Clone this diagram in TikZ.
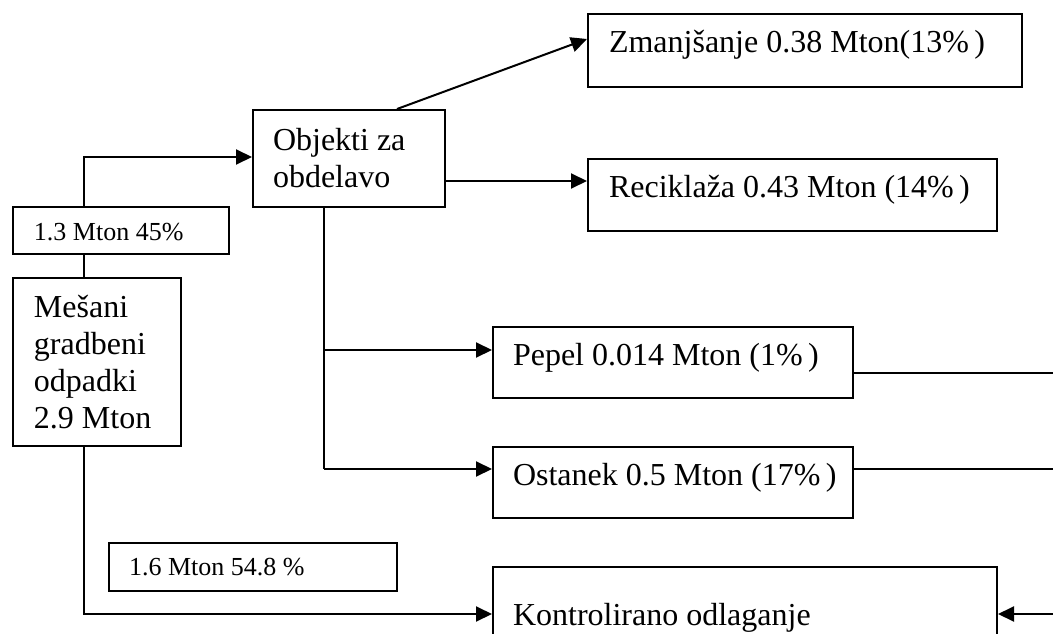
\documentclass[tikz,border=0pt]{standalone}
\usepackage{fontspec}
\setmainfont{Liberation Serif}
\usetikzlibrary{arrows.meta,calc}
\begin{document}
\begin{tikzpicture}[x=1pt,y=-1pt,
  line width=2pt,
  box/.style={draw,fill=white,rectangle,inner sep=0pt,anchor=north west},
  big/.style={font=\fontsize{32}{37}\selectfont,inner sep=0pt,anchor=base west,align=left},
  small/.style={font=\fontsize{26}{30}\selectfont,inner sep=0pt,anchor=base west},
  arr/.style={-{Triangle[length=16pt,width=15pt]}}]
\clip (0,0) rectangle (1053,634);
\fill[white] (0,0) rectangle (1053,634);

\coordinate (rightA) at (1053,373);
\coordinate (rightB) at (1053,469);
\coordinate (rightC) at (1053,614);

% boxes
\node[box,minimum width=168pt,minimum height=168pt] (mix) at (12,277) {};
\node[box,minimum width=192pt,minimum height=97pt] (obj) at (252,109) {};
\node[box,minimum width=434pt,minimum height=73pt] (zma) at (587,13) {};
\node[box,minimum width=409pt,minimum height=72pt] (rec) at (587,158) {};
\node[box,minimum width=360pt,minimum height=71pt] (pep) at (492,326) {};
\node[box,minimum width=360pt,minimum height=71pt] (ost) at (492,446) {};
\node[box,minimum width=504pt,minimum height=100pt] (kon) at (492,566) {};
\node[box,minimum width=288pt,minimum height=48pt] (lab16) at (108,542) {};

% paths from the mixed waste box
\coordinate (mixTop) at ([xshift=72pt]mix.north west);
\coordinate (mixBot) at ([xshift=72pt]mix.south west);
\draw[arr] (mixTop) |- (obj.west |- 0,157);
\draw[arr] (mixBot) |- (kon.west |- 0,614);
% label box sits on top of the rising line
\node[box,minimum width=216pt,minimum height=47pt] (lab13) at (12,206) {};

% outputs of the processing box
\draw[arr] ([xshift=145pt]obj.north west) -- ([yshift=-26pt]zma.north west);
\draw[arr] (obj.east |- 0,181) -- (rec.west |- 0,181);
\coordinate (objBot) at ([xshift=72pt]obj.south west);
\draw (objBot) -- (objBot |- 0,469);
\draw[arr] (objBot |- 0,350) -- (pep.west |- 0,350);
\draw[arr] (objBot |- 0,469) -- (ost.west |- 0,469);

% lines leaving to the right and the return into disposal
\draw (pep.east |- rightA) -- (rightA);
\draw (ost.east |- rightB) -- (rightB);
\draw[arr] (rightC) -- (kon.east |- rightC);

% texts (multi-line nodes are placed by the baseline of their last line)
\node[big] (mixT) at (33,428) {Mešani\\gradbeni\\odpadki\\2.9 Mton};
\node[big] (objT) at (272,187) {Objekti za\\obdelavo};
\node[big] (zmaT) at (608,53) {Zmanjšanje 0.38 Mton(13\%\,)};
\node[big] (recT) at (608,197) {Reciklaža 0.43 Mton (14\%\,)};
\node[big] (pepT) at (512,365) {Pepel 0.014 Mton (1\%\,)};
\node[big] (ostT) at (512,485) {Ostanek 0.5 Mton (17\%\,)};
\node[big] (konT) at (512,625) {Kontrolirano odlaganje};
\node[small] (lab13T) at (33,240) {1.3 Mton 45\%};
\node[small] (lab16T) at (128,575) {1.6 Mton 54.8 \%};
\end{tikzpicture}
\end{document}
